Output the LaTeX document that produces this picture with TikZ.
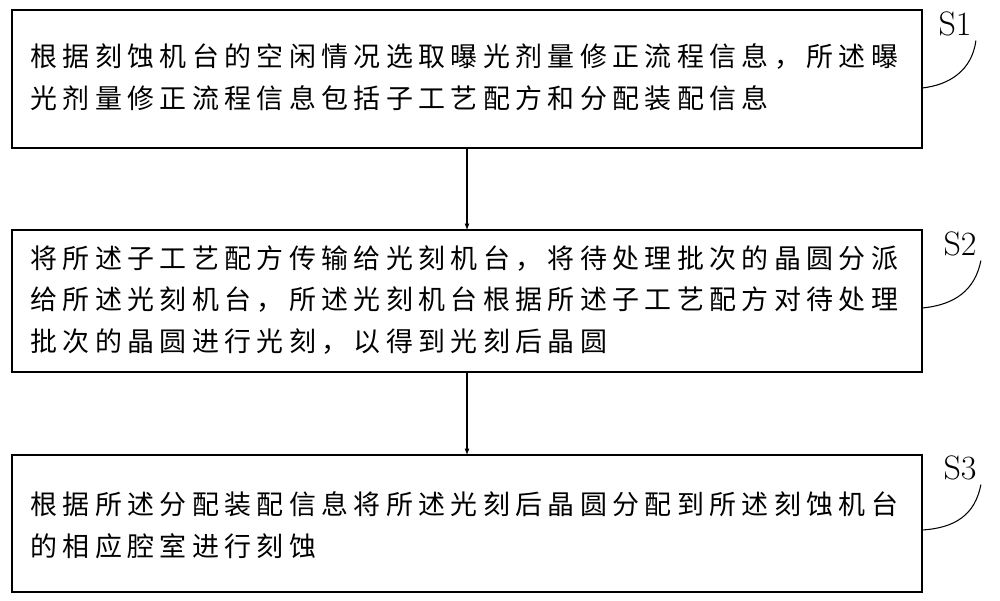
\documentclass[tikz,border=0pt]{standalone}
\usepackage{fontspec}
\newfontfamily\cjk[LetterSpace=20]{Noto Sans CJK SC}
\usetikzlibrary{positioning}
\begin{document}
\begin{tikzpicture}[x=0.03cm, y=-0.03cm, >=latex, line width=0.9pt]
\tikzset{stepbox/.style={draw, line width=0.9pt},
         steptext/.style={anchor=west, align=left, font=\cjk\fontsize{23pt}{35.5pt}\selectfont},
         steplabel/.style={font=\fontsize{29pt}{31pt}\selectfont}}
\useasboundingbox (0,0) rectangle (1000,601);
% Boxes
\draw[stepbox] (12,10) rectangle (922,148);
\draw[stepbox] (12,230) rectangle (922,372);
\draw[stepbox] (12,455) rectangle (922,592);
\coordinate (b1s) at (467,148);
\coordinate (b2n) at (467,230);
\coordinate (b2s) at (467,372);
\coordinate (b3n) at (467,455);
% Texts
\node[steptext] (t1) at (26,77) {根据刻蚀机台的空闲情况选取曝光剂量修正流程信息，所述曝\\光剂量修正流程信息包括子工艺配方和分配装配信息};
\node[steptext] (t2) at (26,300) {将所述子工艺配方传输给光刻机台，将待处理批次的晶圆分派\\给所述光刻机台，所述光刻机台根据所述子工艺配方对待处理\\批次的晶圆进行光刻，以得到光刻后晶圆};
\node[steptext] (t3) at (26,525) {根据所述分配装配信息将所述光刻后晶圆分配到所述刻蚀机台\\的相应腔室进行刻蚀};
% Arrows
\draw[->] (b1s) -- (b2n);
\draw[->] (b2s) -- (b3n);
% Labels
\node[steplabel] (s1) at (955,24) {S1};
\node[steplabel] (s2) at (960,244) {S2};
\node[steplabel] (s3) at (960,468) {S3};
\draw (s1.south east) .. controls (972,70) and (950,85) .. (922,88);
\draw (s2.south east) .. controls (975,290) and (955,305) .. (922,308);
\draw (s3.south east) .. controls (975,515) and (955,528) .. (922,530);
\end{tikzpicture}
\end{document}
